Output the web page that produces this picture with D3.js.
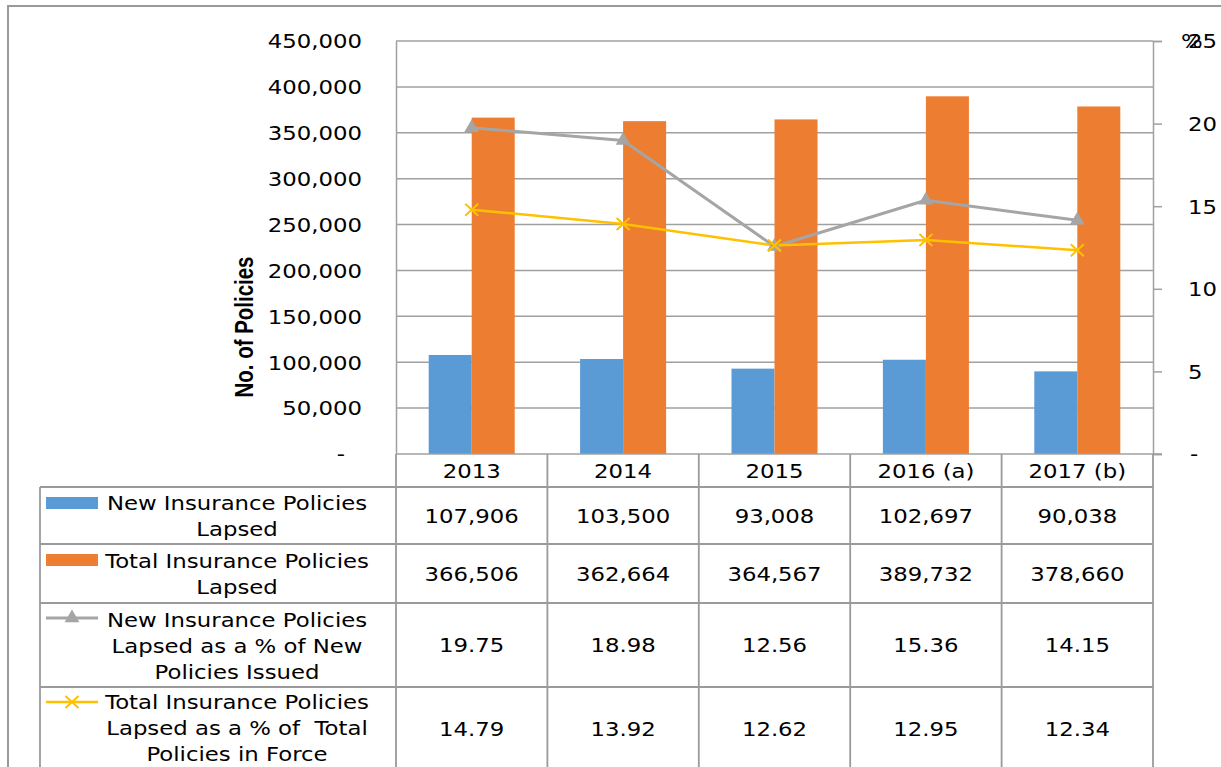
<!DOCTYPE html>
<html><head><meta charset="utf-8">
<script src="https://cdn.jsdelivr.net/npm/d3@7"></script>
<style>
body{margin:0;background:#fff}
text{font-family:"DejaVu Sans",Verdana,sans-serif;font-size:19px;fill:#000;white-space:pre}
</style>
</head><body><svg id="c" width="1221" height="767"></svg>
<script>
// ---- data ----
const categories = ["2013", "2014", "2015", "2016 (a)", "2017 (b)"];
const newLapsed = [107906, 103500, 93008, 102697, 90038];
const totalLapsed = [366506, 362664, 364567, 389732, 378660];
const newLapsedPct = [19.75, 18.98, 12.56, 15.36, 14.15];
const totalLapsedPct = [14.79, 13.92, 12.62, 12.95, 12.34];
const leftTicks = [0, 50000, 100000, 150000, 200000, 250000, 300000, 350000, 400000, 450000];
const rightTicks = [0, 5, 10, 15, 20, 25];
const seriesLabels = [
  ["New Insurance Policies", "Lapsed"],
  ["Total Insurance Policies", "Lapsed"],
  ["New Insurance Policies", "Lapsed as a % of New", "Policies Issued"],
  ["Total Insurance Policies", "Lapsed as a % of  Total", "Policies in Force"]
];
const yTitle = "No. of Policies";
const rightTitle = "%";

// ---- layout ----
const C = {blue: "#5B9BD5", orange: "#ED7D31", gray: "#A5A5A5", yellow: "#FFC000", grid: "#A0A0A0", border: "#9A9A9A"};
const plotL = 396, plotR = 1153, plotT = 41, plotB = 454;
const tableL = 40;
const rowBounds = [454, 487, 544, 603, 687, 770];
const SX = 1.2;

const svg = d3.select("#c");
function T(g, x, y, s, anchor) {
  return g.append("text").attr("transform", `translate(${x},${y}) scale(${SX},1)`)
    .attr("text-anchor", anchor || "middle").text(s);
}

// outer frame
svg.append("rect").attr("x", 8).attr("y", 6).attr("width", 1400).attr("height", 900)
  .attr("fill", "none").attr("stroke", C.border).attr("stroke-width", 2);

const x0 = d3.scaleBand().domain(categories).range([plotL, plotR]).padding(0);
const x1 = d3.scaleBand().domain(["new", "total"]).range([0, x0.bandwidth()]).paddingInner(0).paddingOuter(0.76);
const yL = d3.scaleLinear().domain([0, 450000]).range([plotB, plotT]);
const yR = d3.scaleLinear().domain([0, 25]).range([plotB, plotT]);

// gridlines
svg.append("g").selectAll("line").data(leftTicks.filter(d => d > 0)).join("line")
  .attr("x1", plotL).attr("x2", plotR).attr("y1", d => yL(d)).attr("y2", d => yL(d))
  .attr("stroke", C.grid).attr("stroke-width", 1.5);

// bars
const bars = svg.append("g");
categories.forEach((c, i) => {
  bars.append("rect").attr("x", x0(c) + x1("new")).attr("width", x1.bandwidth())
    .attr("y", yL(newLapsed[i])).attr("height", plotB - yL(newLapsed[i])).attr("fill", C.blue);
  bars.append("rect").attr("x", x0(c) + x1("total")).attr("width", x1.bandwidth())
    .attr("y", yL(totalLapsed[i])).attr("height", plotB - yL(totalLapsed[i])).attr("fill", C.orange);
});

// left axis
const fmtL = d => d === 0 ? "-" : d3.format(",")(d);
const axL = svg.append("g").attr("transform", `translate(${plotL},0)`)
  .call(d3.axisLeft(yL).tickValues(leftTicks).tickFormat(fmtL).tickSize(0).tickPadding(0));
axL.select(".domain").attr("stroke", C.grid).attr("stroke-width", 1.5);
axL.selectAll("text").attr("font-family", null).attr("font-size", null)
  .attr("x", null).attr("dy", "0.36em")
  .attr("transform", d => `translate(${d === 0 ? -51 : -34},0) scale(${SX},1)`)
  .attr("text-anchor", "end");

// right axis
const axR = svg.append("g").attr("transform", `translate(${plotR},0)`)
  .call(d3.axisRight(yR).tickValues(rightTicks).tickFormat(d => d === 0 ? "-" : d).tickSize(9).tickPadding(0));
axR.select(".domain").attr("stroke", C.grid).attr("stroke-width", 1.5);
axR.selectAll(".tick line").attr("stroke", C.grid).attr("stroke-width", 1.5);
axR.selectAll("text").attr("font-family", null).attr("font-size", null)
  .attr("x", null).attr("dy", "0.36em")
  .attr("transform", d => `translate(${d === 0 ? 37 : 35},0) scale(${SX},1)`)
  .attr("text-anchor", "start");
T(svg, 1181, yR(25) + 7, rightTitle, "start").attr("font-size", "17px");

// baseline
svg.append("line").attr("x1", plotL).attr("x2", plotR + 9).attr("y1", plotB).attr("y2", plotB)
  .attr("stroke", C.grid).attr("stroke-width", 1.5);

// y title
svg.append("text").attr("transform", `translate(253,327) rotate(-90)`).attr("text-anchor", "middle")
  .style("font-family", "'Liberation Sans Narrow','Arial Narrow','Liberation Sans',sans-serif")
  .style("font-weight", "bold").style("font-size", "25px")
  .attr("textLength", 141).attr("lengthAdjust", "spacingAndGlyphs").text(yTitle);

// lines
const cx = c => x0(c) + x0.bandwidth() / 2;
const lineG = svg.append("g");
const lineGen = d3.line().x((d, i) => cx(categories[i])).y(d => yR(d));
lineG.append("path").datum(newLapsedPct).attr("d", lineGen).attr("fill", "none")
  .attr("stroke", C.gray).attr("stroke-width", 3).attr("stroke-linejoin", "round");
lineG.append("path").datum(totalLapsedPct).attr("d", lineGen).attr("fill", "none")
  .attr("stroke", C.yellow).attr("stroke-width", 2.5).attr("stroke-linejoin", "round");
const tri = d3.symbol().type(d3.symbolTriangle).size(95)();
const xMark = "M-6.5,-6L6.5,6M-6.5,6L6.5,-6";
newLapsedPct.forEach((v, i) => lineG.append("path").attr("d", tri)
  .attr("transform", `translate(${cx(categories[i])},${yR(v)})`).attr("fill", C.gray));
totalLapsedPct.forEach((v, i) => lineG.append("path").attr("d", xMark)
  .attr("transform", `translate(${cx(categories[i])},${yR(v)})`).attr("stroke", C.yellow).attr("stroke-width", 2).attr("fill", "none"));

// ---- data table ----
const tb = svg.append("g");
const bw = 1.8;
// horizontal lines
tb.append("line").attr("x1", tableL).attr("x2", plotR).attr("y1", rowBounds[1]).attr("y2", rowBounds[1]).attr("stroke", C.border).attr("stroke-width", bw);
rowBounds.slice(2).forEach(y => tb.append("line").attr("x1", tableL).attr("x2", plotR).attr("y1", y).attr("y2", y).attr("stroke", C.border).attr("stroke-width", bw));
// vertical lines
const colEdges = categories.map(c => x0(c)).concat([plotR]);
colEdges.forEach(x => tb.append("line").attr("x1", x).attr("x2", x).attr("y1", rowBounds[0]).attr("y2", 780).attr("stroke", C.border).attr("stroke-width", bw));
tb.append("line").attr("x1", tableL).attr("x2", tableL).attr("y1", rowBounds[1]).attr("y2", 780).attr("stroke", C.border).attr("stroke-width", bw);

// header
categories.forEach(c => T(tb, cx(c), (rowBounds[0] + rowBounds[1]) / 2 + 7, c));

// rows
const rows = [
  newLapsed.map(d3.format(",")),
  totalLapsed.map(d3.format(",")),
  newLapsedPct.map(d3.format(".2f")),
  totalLapsedPct.map(d3.format(".2f"))
];
rows.forEach((vals, r) => {
  const yc = (rowBounds[r + 1] + rowBounds[r + 2]) / 2 + 7;
  vals.forEach((v, i) => T(tb, cx(categories[i]), yc, v));
});

// legend keys & labels
const keyX1 = 46, keyX2 = 98, labelCx = 237;
const firstBase = [510, 568, 627, 709];
const keyY = [503, 560, 618, 702];
seriesLabels.forEach((lines, r) => {
  lines.forEach((s, j) => T(tb, labelCx, firstBase[r] + j * 25.8, s));
});
tb.append("rect").attr("x", keyX1).attr("y", keyY[0] - 6).attr("width", keyX2 - keyX1).attr("height", 12).attr("fill", C.blue);
tb.append("rect").attr("x", keyX1).attr("y", keyY[1] - 6).attr("width", keyX2 - keyX1).attr("height", 12).attr("fill", C.orange);
tb.append("line").attr("x1", keyX1).attr("x2", keyX2).attr("y1", keyY[2]).attr("y2", keyY[2]).attr("stroke", C.gray).attr("stroke-width", 3);
tb.append("path").attr("d", tri).attr("transform", `translate(${(keyX1 + keyX2) / 2},${keyY[2]})`).attr("fill", C.gray);
tb.append("line").attr("x1", keyX1).attr("x2", keyX2).attr("y1", keyY[3]).attr("y2", keyY[3]).attr("stroke", C.yellow).attr("stroke-width", 2.5);
tb.append("path").attr("d", xMark).attr("transform", `translate(${(keyX1 + keyX2) / 2},${keyY[3]})`).attr("stroke", C.yellow).attr("stroke-width", 2).attr("fill", "none");
</script></body></html>
